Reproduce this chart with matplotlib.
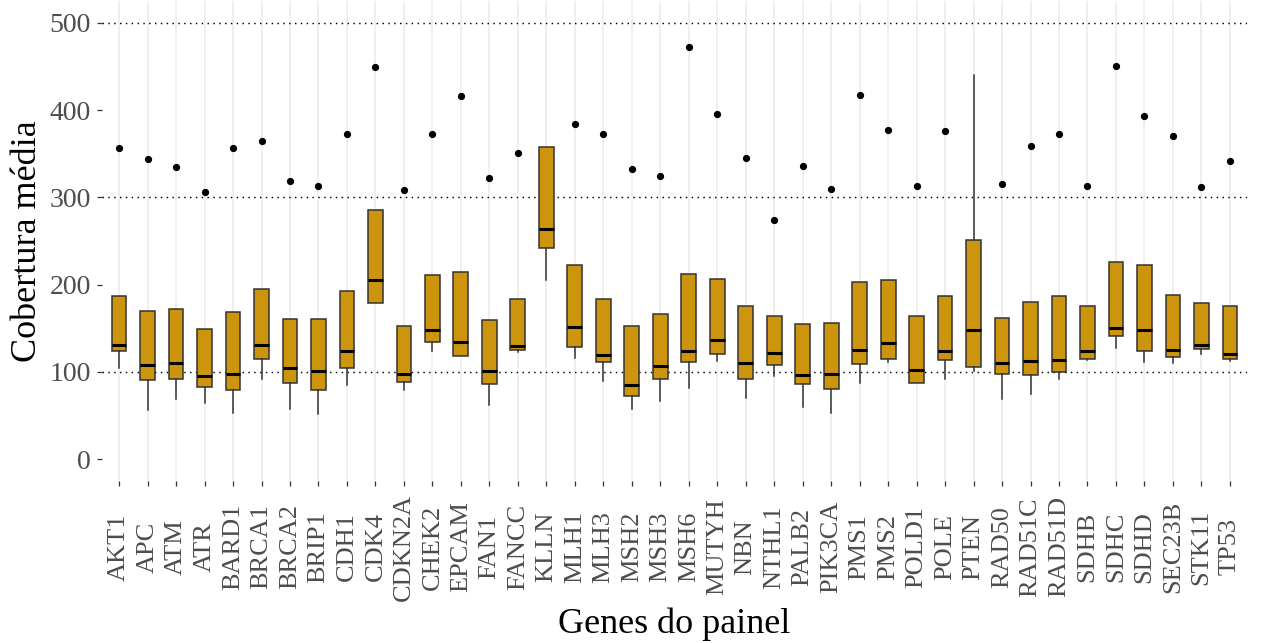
import matplotlib
matplotlib.use("Agg")
import matplotlib.pyplot as plt

# Mean coverage per gene of the panel (box summaries + single outlier)
genes = ["AKT1", "APC", "ATM", "ATR", "BARD1", "BRCA1", "BRCA2", "BRIP1", "CDH1",
         "CDK4", "CDKN2A", "CHEK2", "EPCAM", "FAN1", "FANCC", "KLLN", "MLH1", "MLH3",
         "MSH2", "MSH3", "MSH6", "MUTYH", "NBN", "NTHL1", "PALB2", "PIK3CA", "PMS1",
         "PMS2", "POLD1", "POLE", "PTEN", "RAD50", "RAD51C", "RAD51D", "SDHB", "SDHC",
         "SDHD", "SEC23B", "STK11", "TP53"]
q3 = [187, 170, 172, 149, 169, 195, 161, 161, 193, 285, 153, 211, 214, 159, 184, 358,
      222, 184, 153, 166, 212, 207, 176, 164, 155, 156, 203, 205, 164, 187, 251, 162,
      180, 187, 175, 226, 223, 188, 179, 176]
medians = [131, 108, 110, 95, 98, 131, 104, 101, 124, 205, 98, 148, 134, 101, 130, 264,
           151, 119, 85, 107, 124, 136, 110, 122, 96, 98, 125, 133, 102, 124, 148, 110,
           113, 114, 124, 150, 148, 125, 131, 121]
q1 = [124, 91, 92, 83, 79, 115, 87, 79, 104, 179, 89, 134, 118, 86, 125, 242,
      129, 111, 72, 92, 111, 121, 92, 108, 86, 80, 109, 115, 87, 114, 106, 98,
      97, 100, 115, 141, 124, 117, 126, 115]
whisker_low = [105, 56, 69, 64, 53, 92, 58, 52, 85, 179, 79, 124, 118, 62, 123, 205,
               116, 90, 58, 67, 81, 113, 70, 95, 60, 53, 87, 111, 87, 92, 101, 69,
               75, 92, 114, 127, 111, 110, 121, 113]
whisker_high = [187, 170, 172, 149, 169, 195, 161, 161, 193, 285, 153, 211, 214, 159, 184, 358,
                222, 184, 153, 166, 212, 207, 176, 164, 155, 156, 203, 205, 164, 187, 440, 162,
                180, 187, 175, 226, 223, 188, 179, 176]
outliers = [356, 344, 335, 306, 356, 365, 319, 313, 373, 449, 309, 373, 416, 322, 351, None,
            384, 373, 333, 325, 472, 396, 345, 274, 336, 310, 417, 377, 313, 376, None, 315,
            359, 373, 313, 451, 393, 370, 312, 342]

serif = ["Liberation Serif", "DejaVu Serif"]
fill = "#CC950D"
edge = "#333333"

fig = plt.figure(figsize=(12.62, 6.43), dpi=100)
W, H = 1262, 643
left, right, top, bottom = 102, 1247, 1, 481
ax = fig.add_axes([left / W, 1 - bottom / H, (right - left) / W, (bottom - top) / H])

positions = list(range(1, len(genes) + 1))
stats = []
for i, g in enumerate(genes):
    stats.append(dict(label=g, med=medians[i], q1=q1[i], q3=q3[i],
                      whislo=whisker_low[i], whishi=whisker_high[i],
                      fliers=[] if outliers[i] is None else [outliers[i]]))

# vertical category gridlines and dotted horizontal reference lines
for p in positions:
    ax.axvline(p, color="#EBEBEB", lw=1.1, zorder=0)
for yv in (100, 300, 500):
    ax.axhline(yv, color="black", lw=1.05, dashes=(1, 3), zorder=0.5)

ax.bxp(stats, positions=positions, widths=0.52, patch_artist=True, showcaps=False,
       boxprops=dict(facecolor=fill, edgecolor=edge, linewidth=1.1),
       medianprops=dict(color="black", linewidth=2.2, solid_capstyle="butt"),
       whiskerprops=dict(color=edge, linewidth=1.1),
       flierprops=dict(marker="o", markerfacecolor="black", markeredgecolor="black",
                       markersize=4.2, linestyle="none"),
       zorder=2)

ax.set_xlim(0.4, len(genes) + 0.6)
ax.set_ylim(-25, 525)
ax.set_yticks([0, 100, 200, 300, 400, 500])
ax.set_yticklabels(["0", "100", "200", "300", "400", "500"], fontfamily=serif,
                   fontsize=20, color="#4D4D4D")
ax.set_xticks(positions)
ax.set_xticklabels(genes, rotation=90, va="center", ha="center", fontfamily=serif,
                   fontsize=19, color="#4D4D4D")
ax.tick_params(axis="x", length=3.5, width=0.9, color="#333333", pad=44)
ax.tick_params(axis="y", length=3.5, width=0.9, color="#333333", pad=4.3)
for s in ax.spines.values():
    s.set_visible(False)

fig.text(674.5 / W, 1 - 633 / H, "Genes do painel", ha="center", va="baseline",
         fontfamily=serif, fontsize=26, color="black")
fig.text(36 / W, 1 - 241 / H, "Cobertura média", ha="center", va="baseline",
         rotation=90, rotation_mode="anchor", fontfamily=serif, fontsize=26, color="black")

fig.savefig("out.png", dpi=100)
